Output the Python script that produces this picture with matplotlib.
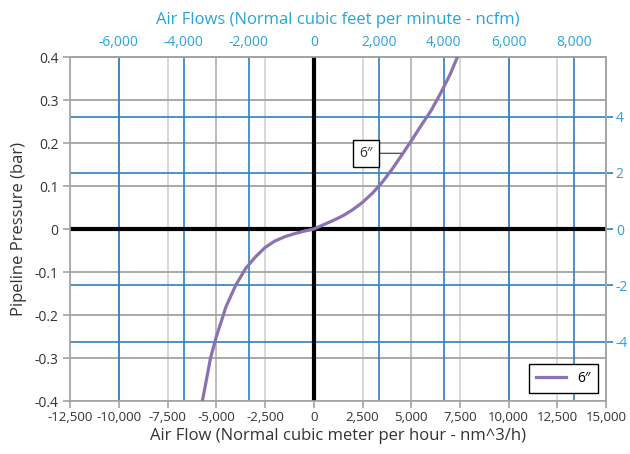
import matplotlib
matplotlib.use('Agg')
import matplotlib.pyplot as plt
from matplotlib.ticker import FuncFormatter, MultipleLocator

plt.rcParams['font.family'] = ['Open Sans', 'DejaVu Sans']
plt.rcParams['axes.unicode_minus'] = False

# 6" pipe: air flow (nm^3/h) vs pipeline pressure (bar)
flow = [-5720, -5550, -5300, -5000, -4500, -4000, -3500, -3000, -2500, -2000,
        -1500, -1000, -500, 0, 500, 1000, 1500, 2000, 2500, 3000,
        3500, 4000, 4500, 5000, 5500, 6000, 6500, 7000, 7370]
pressure = [-0.400, -0.360, -0.300, -0.250, -0.180, -0.130, -0.092, -0.065, -0.043, -0.028,
            -0.018, -0.011, -0.005, 0.000, 0.010, 0.020, 0.031, 0.045, 0.062, 0.083,
            0.108, 0.138, 0.171, 0.205, 0.240, 0.274, 0.315, 0.360, 0.400]
series_label = '6\u2033'

ncfm_ticks = [-6000, -4000, -2000, 0, 2000, 4000, 6000, 8000]
right_ticks = [-4, -2, 0, 2, 4]

NM3H_PER_NCFM = 1.667
BAR_PER_UNIT = 0.0654

BLUE_LINE = '#2f7fc1'
BLUE_TEXT = '#2aa3dc'
GRAY = '#a3a3a3'
TEXT = '#333333'
PURPLE = '#8d72b1'

fig = plt.figure(figsize=(6.3, 4.54), dpi=100)
ax = fig.add_axes([0.1115, 0.1167, 0.8505, 0.7577])

ax.set_xlim(-12500, 15000)
ax.set_ylim(-0.4, 0.4)
ax.xaxis.set_major_locator(MultipleLocator(2500))
ax.yaxis.set_major_locator(MultipleLocator(0.1))
ax.xaxis.set_major_formatter(FuncFormatter(lambda v, p: f'{v:,.0f}'))
ax.yaxis.set_major_formatter(FuncFormatter(lambda v, p: '0' if abs(v) < 1e-9 else f'{v:.1f}'))

ax.set_axisbelow(True)
ax.grid(axis='x', color='#d2d2d2', lw=1.2)
ax.grid(axis='y', color=GRAY, lw=1.3)
for loc, line in zip(ax.get_xticks(), ax.get_xgridlines()):
    if loc % 5000 == 0:
        line.set_color('#b0b0b0')

# blue grid of the secondary scales
for t in ncfm_ticks:
    if t != 0:
        ax.axvline(t * NM3H_PER_NCFM, color=BLUE_LINE, lw=1.2, zorder=1.5)
for t in right_ticks:
    if t != 0:
        ax.axhline(t * BAR_PER_UNIT, color=BLUE_LINE, lw=1.2, zorder=1.5)

ax.axhline(0, color='black', lw=3, zorder=2)
ax.axvline(0, color='black', lw=3, zorder=2)

ax.plot(flow, pressure, color=PURPLE, lw=2.3, label=series_label, zorder=3,
        solid_joinstyle='round')

ax.annotate(series_label, xy=(4480, 0.176), xytext=(2700, 0.176),
            ha='center', va='center', fontsize=10, color=TEXT, zorder=4,
            bbox=dict(boxstyle='square,pad=0.45', fc='white', ec='black', lw=1),
            arrowprops=dict(arrowstyle='-', color='#555555', lw=1, shrinkA=0, shrinkB=0))

for s in ax.spines.values():
    s.set_color(GRAY)
    s.set_linewidth(1.2)
ax.tick_params(colors=GRAY, labelcolor=TEXT, labelsize=10, length=5, width=1.2)
ax.tick_params(axis='x', pad=2, labelsize=9.5)

ax.set_xlabel('Air Flow (Normal cubic meter per hour - nm^3/h)', fontsize=12, color=TEXT, labelpad=3)
ax.set_ylabel('Pipeline Pressure (bar)', fontsize=12, color=TEXT, labelpad=5)

top = ax.secondary_xaxis('top', functions=(lambda x: x / NM3H_PER_NCFM,
                                           lambda x: x * NM3H_PER_NCFM))
top.set_xticks(ncfm_ticks)
top.xaxis.set_major_formatter(FuncFormatter(lambda v, p: f'{v:,.0f}'))
top.tick_params(length=0, labelsize=10, labelcolor=BLUE_TEXT, pad=5)
top.spines['top'].set_color(GRAY)
top.spines['top'].set_linewidth(1.2)
top.set_xlabel('Air Flows (Normal cubic feet per minute - ncfm)', fontsize=12,
               color=BLUE_TEXT, labelpad=8)

right = ax.secondary_yaxis('right', functions=(lambda y: y / BAR_PER_UNIT,
                                               lambda y: y * BAR_PER_UNIT))
right.set_yticks(right_ticks)
right.tick_params(length=5, width=1.2, color=BLUE_LINE, labelsize=10,
                  labelcolor=BLUE_TEXT, pad=2)
right.spines['right'].set_color(GRAY)
right.spines['right'].set_linewidth(1.2)

leg = ax.legend(loc='lower right', bbox_to_anchor=(0.985, 0.023), borderaxespad=0,
                fontsize=10, fancybox=False, edgecolor='black', framealpha=1,
                handlelength=2.2, borderpad=0.5)
leg.get_frame().set_linewidth(1)
leg.set_zorder(5)

fig.savefig('out.png', dpi=100)
